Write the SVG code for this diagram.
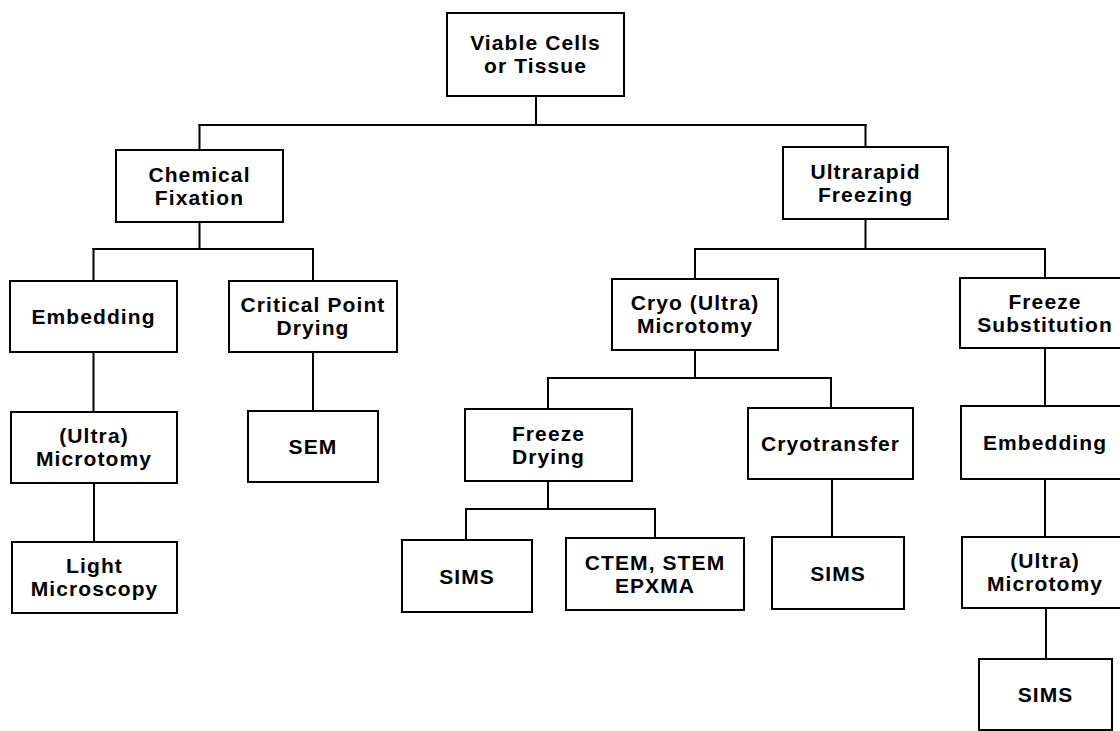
<svg xmlns="http://www.w3.org/2000/svg" width="1120" height="731" viewBox="0 0 1120 731">
<style>
rect{fill:#fff;stroke:#000;stroke-width:2}
.c line{stroke:#000;stroke-width:2;stroke-linecap:square}
text{font-family:"Liberation Sans",Arial,sans-serif;font-weight:bold;font-size:21px;letter-spacing:1.1px;text-anchor:middle;fill:#000}
</style>
<rect width="1120" height="731" style="fill:#fff;stroke:none"/>
<g class="c" id="connectors">
<line x1="536" y1="96" x2="536" y2="125"/>
<line x1="199.5" y1="125" x2="865.5" y2="125"/>
<line x1="199.5" y1="125" x2="199.5" y2="150"/>
<line x1="865.5" y1="125" x2="865.5" y2="147"/>
<line x1="199.5" y1="222" x2="199.5" y2="249"/>
<line x1="93.5" y1="249" x2="313" y2="249"/>
<line x1="93.5" y1="249" x2="93.5" y2="281"/>
<line x1="313" y1="249" x2="313" y2="281"/>
<line x1="865.5" y1="219" x2="865.5" y2="249"/>
<line x1="695" y1="249" x2="1045" y2="249"/>
<line x1="695" y1="249" x2="695" y2="279"/>
<line x1="1045" y1="249" x2="1045" y2="278"/>
<line x1="93.5" y1="352" x2="93.5" y2="412"/>
<line x1="94" y1="483" x2="94" y2="542"/>
<line x1="313" y1="352" x2="313" y2="411"/>
<line x1="695" y1="350" x2="695" y2="378"/>
<line x1="548" y1="378" x2="831" y2="378"/>
<line x1="548" y1="378" x2="548" y2="409"/>
<line x1="831" y1="378" x2="831" y2="408"/>
<line x1="548" y1="481" x2="548" y2="509"/>
<line x1="466" y1="509" x2="655" y2="509"/>
<line x1="466" y1="509" x2="466" y2="540"/>
<line x1="655" y1="509" x2="655" y2="538"/>
<line x1="832" y1="479" x2="832" y2="537"/>
<line x1="1045" y1="348" x2="1045" y2="406"/>
<line x1="1045" y1="479" x2="1045" y2="537"/>
<line x1="1046" y1="608" x2="1046" y2="659"/>
</g>
<g id="n1"><rect x="447" y="13" width="177" height="83"/><text x="535.5" y="50">Viable Cells</text><text x="535.5" y="73">or Tissue</text></g>
<g id="n2"><rect x="116" y="150" width="167" height="72"/><text x="199.5" y="181.5">Chemical</text><text x="199.5" y="204.5">Fixation</text></g>
<g id="n3"><rect x="783" y="147" width="165" height="72"/><text x="865.5" y="178.5">Ultrarapid</text><text x="865.5" y="201.5">Freezing</text></g>
<g id="n4"><rect x="10" y="281" width="167" height="71"/><text x="93.5" y="324">Embedding</text></g>
<g id="n5"><rect x="229" y="281" width="168" height="71"/><text x="313" y="312">Critical Point</text><text x="313" y="335">Drying</text></g>
<g id="n6"><rect x="612" y="279" width="166" height="71"/><text x="695" y="310">Cryo (Ultra)</text><text x="695" y="333">Microtomy</text></g>
<g id="n7"><rect x="960" y="278" width="170" height="70"/><text x="1045" y="308.5">Freeze</text><text x="1045" y="331.5">Substitution</text></g>
<g id="n8"><rect x="11" y="412" width="166" height="71"/><text x="94" y="443">(Ultra)</text><text x="94" y="466">Microtomy</text></g>
<g id="n9"><rect x="248" y="411" width="130" height="71"/><text x="313" y="454">SEM</text></g>
<g id="n10"><rect x="465" y="409" width="167" height="72"/><text x="548.5" y="440.5">Freeze</text><text x="548.5" y="463.5">Drying</text></g>
<g id="n11"><rect x="748" y="408" width="165" height="71"/><text x="830.5" y="451">Cryotransfer</text></g>
<g id="n12"><rect x="961" y="406" width="169" height="73"/><text x="1045" y="450">Embedding</text></g>
<g id="n13"><rect x="12" y="542" width="165" height="71"/><text x="94.5" y="573">Light</text><text x="94.5" y="596">Microscopy</text></g>
<g id="n14"><rect x="402" y="540" width="130" height="72"/><text x="467" y="583.5">SIMS</text></g>
<g id="n15"><rect x="566" y="538" width="178" height="72"/><text x="655" y="569.5">CTEM, STEM</text><text x="655" y="592.5">EPXMA</text></g>
<g id="n16"><rect x="772" y="537" width="132" height="72"/><text x="838" y="580.5">SIMS</text></g>
<g id="n17"><rect x="962" y="537" width="168" height="71"/><text x="1045" y="568">(Ultra)</text><text x="1045" y="591">Microtomy</text></g>
<g id="n18"><rect x="979" y="659" width="133" height="71"/><text x="1045.5" y="702">SIMS</text></g>
</svg>
